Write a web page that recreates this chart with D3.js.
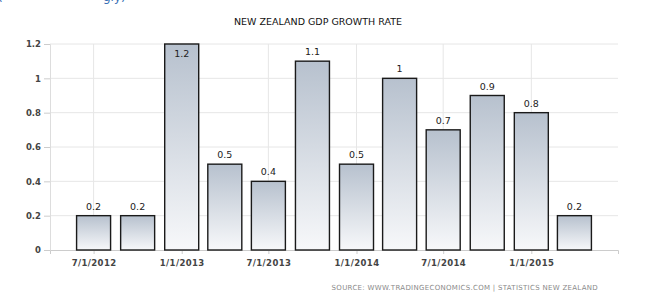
<!DOCTYPE html>
<html lang="en">
<head>
<meta charset="UTF-8">
<title>New Zealand GDP Growth Rate</title>
<script src="https://d3js.org/d3.v7.min.js"></script>
<style>
    body { margin: 0; background: #fff; }
    text { font-family: 'DejaVu Sans', Verdana, sans-serif; }
</style>
</head>
<body>
<svg id="chart" width="654" height="298"></svg>
<script>
    // quarterly data
    const quarters = ["2012-07-01", "2012-10-01", "2013-01-01", "2013-04-01", "2013-07-01", "2013-10-01",
                      "2014-01-01", "2014-04-01", "2014-07-01", "2014-10-01", "2015-01-01", "2015-04-01"];
    const growth = [0.2, 0.2, 1.2, 0.5, 0.4, 1.1, 0.5, 1, 0.7, 0.9, 0.8, 0.2];
    const yTicks = [0, 0.2, 0.4, 0.6, 0.8, 1, 1.2];
    const xTicks = ["2012-07-01", "2013-01-01", "2013-07-01", "2014-01-01", "2014-07-01", "2015-01-01"];

    const width = 654, height = 298;
    const plotL = 50, plotR = 618, plotT = 44, plotB = 250;
    const barW = 34;

    const svg = d3.select("#chart");
    const parse = d3.utcParse("%Y-%m-%d");
    const fmt = d3.utcFormat("%-m/%-d/%Y");

    const x = d3.scaleUtc()
        .domain([parse("2012-04-01"), parse("2015-07-01")])
        .range([plotL, plotR]);
    const y = d3.scaleLinear().domain([0, 1.2]).range([plotB, plotT]);

    // gradient for bars
    const grad = svg.append("defs").append("linearGradient")
        .attr("id", "barFill").attr("x1", 0).attr("y1", 0).attr("x2", 0).attr("y2", 1);
    grad.append("stop").attr("offset", "0%").attr("stop-color", "#b7c1ce");
    grad.append("stop").attr("offset", "100%").attr("stop-color", "#f7f8fa");

    // clipped link text at top left (cut off in the original too)
    svg.append("text").attr("x", -2).attr("y", 1)
        .attr("fill", "#3a6fb5").style("font-size", "12px")
        .text("(");
    svg.append("text").attr("x", 103).attr("y", 1)
        .attr("fill", "#3a6fb5").style("font-size", "12px")
        .text("gly)");

    // title
    svg.append("text")
        .attr("x", 318).attr("y", 25)
        .attr("text-anchor", "middle")
        .attr("fill", "#111")
        .style("font-size", "9.5px")
        .text("NEW ZEALAND GDP GROWTH RATE");

    // grid
    const grid = svg.append("g");
    grid.selectAll(".hg").data(yTicks.filter(d => d > 0)).enter().append("line")
        .attr("x1", plotL).attr("x2", plotR)
        .attr("y1", d => y(d)).attr("y2", d => y(d))
        .attr("stroke", "#e6e6e6");
    grid.selectAll(".vg").data(xTicks).enter().append("line")
        .attr("x1", d => x(parse(d))).attr("x2", d => x(parse(d)))
        .attr("y1", plotT).attr("y2", plotB)
        .attr("stroke", "#e6e6e6");

    // y axis
    const yAxis = svg.append("g")
        .attr("transform", `translate(${plotL},0)`)
        .call(d3.axisLeft(y).tickValues(yTicks).tickSize(6).tickPadding(3)
            .tickFormat(d => d3.format("")(d)));
    yAxis.select(".domain").attr("stroke", "#ddd");
    yAxis.selectAll(".tick line").attr("stroke", "#ccc");
    yAxis.selectAll(".tick text")
        .attr("fill", "#444")
        .style("font-size", "8.5px").style("font-weight", "bold")
        .style("font-family", "'DejaVu Sans', Verdana, sans-serif");

    // x axis
    const xAxis = svg.append("g")
        .attr("transform", `translate(0,${plotB})`)
        .call(d3.axisBottom(x).tickValues(xTicks.map(parse)).tickSize(4).tickPadding(6)
            .tickFormat(fmt));
    xAxis.select(".domain").attr("stroke", "#ccc");
    xAxis.selectAll(".tick line").attr("stroke", "#ccc");
    xAxis.selectAll(".tick text")
        .attr("fill", "#444")
        .style("font-size", "8.5px").style("font-weight", "bold")
        .style("letter-spacing", "0.4px")
        .style("font-family", "'DejaVu Sans', Verdana, sans-serif");

    // bars
    const data = quarters.map((q, i) => ({ date: parse(q), value: growth[i] }));
    svg.append("g").selectAll("rect").data(data).enter().append("rect")
        .attr("x", d => x(d.date) - barW / 2)
        .attr("y", d => y(d.value))
        .attr("width", barW)
        .attr("height", d => plotB - y(d.value))
        .attr("fill", "url(#barFill)")
        .attr("stroke", "#1a1a1a")
        .attr("stroke-width", 1.4);

    // value labels (inside the bar when there is no room above)
    svg.append("g").selectAll("text").data(data).enter().append("text")
        .attr("x", d => x(d.date))
        .attr("y", d => y(d.value) - 10 < plotT - 4 ? y(d.value) + 13 : y(d.value) - 6)
        .attr("text-anchor", "middle")
        .attr("fill", "#222")
        .style("font-size", "9.5px")
        .text(d => d.value);

    // source
    svg.append("text")
        .attr("x", 598).attr("y", 290)
        .attr("text-anchor", "end")
        .attr("fill", "#8a8a8a")
        .style("font-size", "7px")
        .style("letter-spacing", "0.3px")
        .text("SOURCE: WWW.TRADINGECONOMICS.COM  |  STATISTICS NEW ZEALAND");
</script>
</body>
</html>
